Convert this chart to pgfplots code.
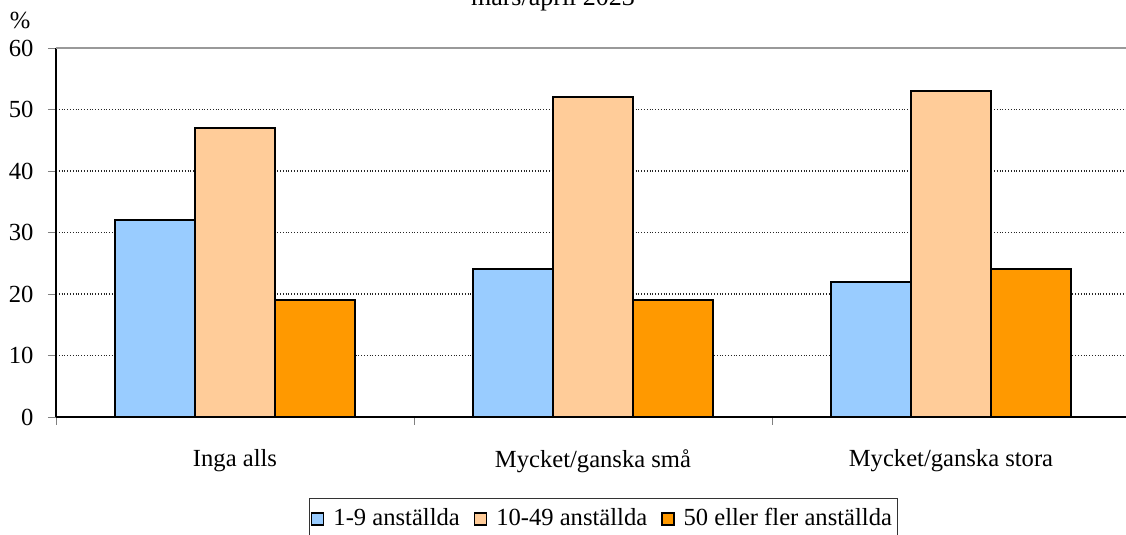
\documentclass[border=0pt]{standalone}
\usepackage{pgfplots}
\pgfplotsset{compat=1.18}
\usepackage{fontspec}
\setmainfont{Liberation Serif}
\definecolor{ljusbla}{HTML}{99CCFF}
\definecolor{persika}{HTML}{FFCC99}
\definecolor{orange}{HTML}{FF9900}
\begin{document}
\fontsize{12.3pt}{14pt}\selectfont
\begin{tikzpicture}
\begin{axis}[
    scale only axis,
    width=537pt, height=184.5pt,
    ybar=0pt, bar width=40pt,
    xmin=-0.5, xmax=2.5,
    ymin=0, ymax=60,
    ytick={0,10,...,60},
    xtick={0,1,2},
    xticklabels={Inga alls, Mycket/ganska små, Mycket/ganska stora},
    minor xtick={-0.5,0.5,1.5,2.5},
    major x tick style={draw=none},
    minor tick length=4pt,
    major tick length=4pt,
    tick align=outside,
    axis x line*=bottom, axis y line*=left,
    axis line style={black, line width=0.6pt, -},
    ymajorgrids,
    major grid style={black!85, densely dotted, line width=0.6pt},
    tick label style={font=\rmfamily\fontsize{12.3pt}{14pt}\selectfont},
    /pgf/number format/assume math mode=true,
    xticklabel style={yshift=-8pt},
    yticklabel style={xshift=-3pt},
    clip=false,
    legend style={at={(0.5098,-0.2195)}, anchor=north, legend columns=-1,
        draw=black!80, line width=0.5pt, font=\rmfamily\fontsize{12.3pt}{14pt}\selectfont,
        inner xsep=1pt, inner ysep=3pt,
        /tikz/every odd column/.append style={column sep=2.5pt},
        /tikz/every even column/.append style={column sep=5pt}},
    legend image code/.code={\draw[#1, line width=0.7pt] (0pt,-3pt) rectangle (6pt,3pt);},
    every axis plot/.append style={draw=black, line width=1pt},
]
\addplot[fill=ljusbla] coordinates {(0,32) (1,24) (2,22)};
\addplot[fill=persika] coordinates {(0,47) (1,52) (2,53)};
\addplot[fill=orange] coordinates {(0,19) (1,19) (2,24)};
\legend{1-9 anställda, 10-49 anställda, 50 eller fler anställda}
\coordinate (O) at (rel axis cs:0,0);
\draw[gray!80, line width=1pt] (rel axis cs:0,1) -- (rel axis cs:1,1);
\end{axis}
\node[anchor=base] at ([shift={(248.5pt,205.5pt)}]O) {\fontsize{13pt}{15pt}\selectfont mars/april 2023};
\node at ([shift={(-18pt,198.5pt)}]O) {\%};
\pgfresetboundingbox
\useasboundingbox ([shift={(-28pt,-59pt)}]O) rectangle ([shift={(535pt,208.5pt)}]O);
\end{tikzpicture}
\end{document}
